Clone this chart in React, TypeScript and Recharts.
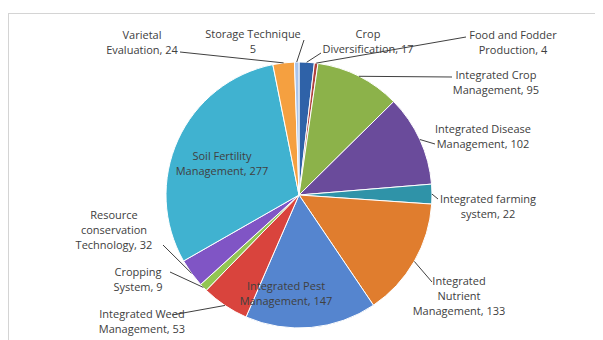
import { PieChart, Pie, Cell } from 'recharts';

// slices clockwise from 12 o'clock, in the order the chart draws them
const CATEGORIES = [
  'Crop Diversification',
  'Food and Fodder Production',
  'Integrated Crop Management',
  'Integrated Disease Management',
  'Integrated farming system',
  'Integrated Nutrient Management',
  'Integrated Pest Management',
  'Integrated Weed Management',
  'Cropping System',
  'Resource conservation Technology',
  'Soil Fertility Management',
  'Varietal Evaluation',
  'Storage Technique',
];

const VALUES = [17, 4, 95, 102, 22, 133, 147, 53, 9, 32, 277, 24, 5];

// label text as wrapped in the picture
const LABEL_LINES = [
  ['Crop', 'Diversification, 17'],
  ['Food and Fodder', 'Production, 4'],
  ['Integrated Crop', 'Management, 95'],
  ['Integrated Disease', 'Management, 102'],
  ['Integrated farming', 'system, 22'],
  ['Integrated', 'Nutrient', 'Management, 133'],
  ['Integrated Pest', 'Management, 147'],
  ['Integrated Weed', 'Management, 53'],
  ['Cropping', 'System, 9'],
  ['Resource', 'conservation', 'Technology, 32'],
  ['Soil Fertility', 'Management, 277'],
  ['Varietal', 'Evaluation, 24'],
  ['Storage Technique', '5'],
];

const COLORS = [
  '#2f62a8', '#b0423d', '#8cb24a', '#6a4b9b', '#2f93a8', '#e07d2e',
  '#5585cf', '#d9443d', '#92c552', '#8055c5', '#40b2d0', '#f5a040', '#a9c4eb',
];

// where each label sits: x = centre of text, y = centre of first line,
// lx/ly = where the leader line meets the label (none for inside labels)
const LABEL_LAYOUT: { x: number; y: number; lx?: number; ly?: number }[] = [
  { x: 368, y: 33, lx: 321, ly: 53 },
  { x: 513, y: 34, lx: 466, ly: 37 },
  { x: 496, y: 74, lx: 452, ly: 77 },
  { x: 483, y: 128, lx: 435, ly: 144 },
  { x: 488, y: 198, lx: 438, ly: 199 },
  { x: 459, y: 280, lx: 432, ly: 282 },
  { x: 286, y: 285 },
  { x: 142, y: 313, lx: 172, ly: 315 },
  { x: 138, y: 271, lx: 170, ly: 272 },
  { x: 114, y: 214, lx: 163, ly: 245 },
  { x: 222, y: 155 },
  { x: 142, y: 34, lx: 180, ly: 52 },
  { x: 253, y: 33, lx: 304, ly: 40 },
];

const data = CATEGORIES.map((name, i) => ({ name, value: VALUES[i] }));

const RAD = Math.PI / 180;

function renderLabel(props: any) {
  const { cx, cy, midAngle, outerRadius, index } = props;
  const layout = LABEL_LAYOUT[index];
  const lines = LABEL_LINES[index];
  const px = cx + outerRadius * Math.cos(-midAngle * RAD);
  const py = cy + outerRadius * Math.sin(-midAngle * RAD);
  return (
    <g key={`label-${index}`}>
      {layout.lx !== undefined && (
        <polyline
          points={`${layout.lx},${layout.ly} ${px},${py}`}
          fill="none"
          stroke="#404040"
          strokeWidth={1}
        />
      )}
      <text
        x={layout.x}
        y={layout.y}
        textAnchor="middle"
        fill="#404040"
        fontSize={11}
        fontFamily="'Open Sans', sans-serif"
      >
        {lines.map((line, i) => (
          <tspan key={i} x={layout.x} y={layout.y + i * 15} dominantBaseline="central">
            {line}
          </tspan>
        ))}
      </text>
    </g>
  );
}

export default function App() {
  return (
    <div style={{ position: 'fixed', left: 0, top: 0, width: 603, height: 340, background: '#fff', overflow: 'hidden' }}>
      <div
        style={{
          position: 'absolute',
          left: 8,
          top: 13,
          width: 586,
          height: 340,
          borderTop: '1px solid #d4d4d4',
          borderLeft: '1px solid #d4d4d4',
        }}
      />
      <PieChart width={603} height={340} style={{ position: 'absolute', left: 0, top: 0 }}>
        <Pie
          data={data}
          dataKey="value"
          nameKey="name"
          cx={294}
          cy={190}
          outerRadius={133}
          startAngle={90}
          endAngle={-270}
          stroke="#ffffff"
          strokeWidth={1}
          label={renderLabel}
          labelLine={false}
          isAnimationActive={false}
        >
          {data.map((_, i) => (
            <Cell key={`cell-${i}`} fill={COLORS[i]} />
          ))}
        </Pie>
      </PieChart>
    </div>
  );
}
